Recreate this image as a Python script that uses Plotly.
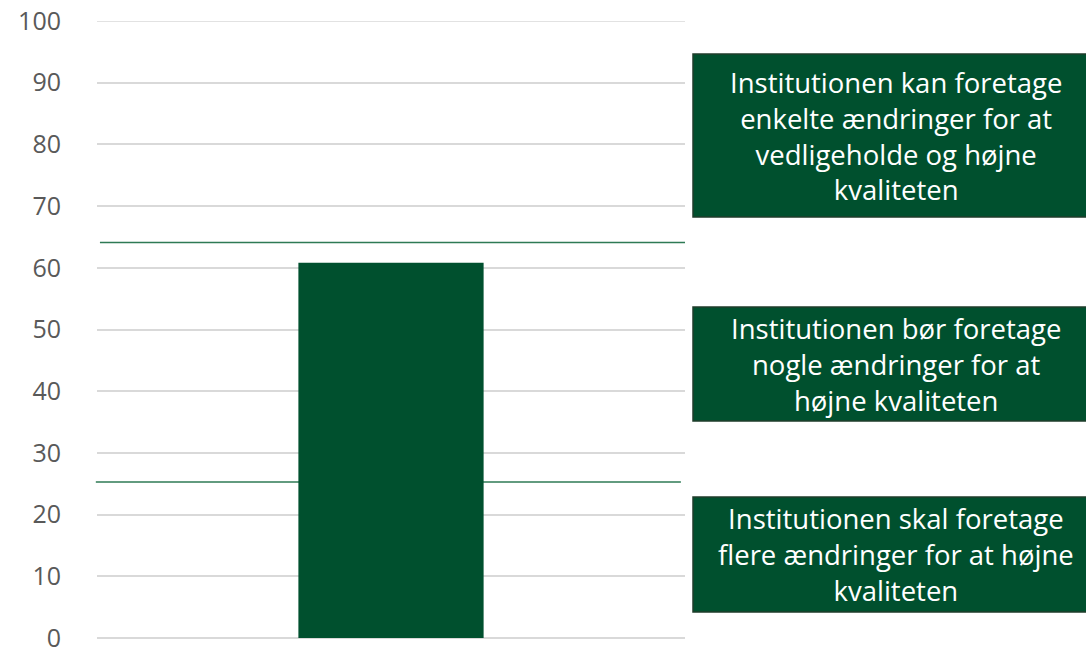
import plotly.graph_objects as go

categories = [""]
values = [60.8]
thresholds = [25.3, 64.1]
threshold_spans = [(-0.002, 0.993), (0.005, 1.0)]
y_ticks = [0, 10, 20, 30, 40, 50, 60, 70, 80, 90, 100]
box_texts = [
    "Institutionen kan foretage<br>enkelte ændringer for at<br>vedligeholde og højne<br>kvaliteten",
    "Institutionen bør foretage<br>nogle ændringer for at<br>højne kvaliteten",
    "Institutionen skal foretage<br>flere ændringer for at højne<br>kvaliteten",
]

W, H = 1086, 653
L, R, T, B = 97, 401, 21, 15
pw, ph = W - L - R, H - T - B

def px_x(x):
    return (x - L) / pw

def px_y(y):
    return (H - B - y) / ph

# box pixel extents (top, bottom)
box_px = [(54, 217), (307, 421), (497, 612)]
box_left, box_right = 693, 1100

GREEN = "#00502E"
GRID = "#D9D9D9"

fig = go.Figure()
fig.add_trace(go.Bar(x=categories, y=values, marker=dict(color=GREEN, line=dict(width=0)),
                     width=0.315, hoverinfo="skip"))

# top gridline (plotly hides gridlines on the range edge)
fig.add_shape(type="line", xref="paper", yref="y", x0=0, x1=1, y0=y_ticks[-1], y1=y_ticks[-1],
              line=dict(color=GRID, width=1.5), layer="between")

for t, (a, b) in zip(thresholds, threshold_spans):
    fig.add_shape(type="line", xref="paper", yref="y", x0=a, x1=b, y0=t, y1=t,
                  line=dict(color="#2E7A55", width=1.5), layer="between")

for (top, bot), txt in zip(box_px, box_texts):
    fig.add_shape(type="rect", xref="paper", yref="paper",
                  x0=px_x(box_left), x1=px_x(box_right), y0=px_y(bot), y1=px_y(top),
                  fillcolor=GREEN, line=dict(color="#1F3D2B", width=1.5), layer="above")
    fig.add_annotation(xref="paper", yref="paper", x=px_x(896), y=px_y((top + bot) / 2),
                       text=txt, showarrow=False, xanchor="center", yanchor="middle",
                       align="center", font=dict(family="Open Sans", size=27.5, color="white"))

fig.update_layout(
    width=W, height=H,
    margin=dict(l=L, r=R, t=T, b=B, autoexpand=False),
    plot_bgcolor="white", paper_bgcolor="white",
    showlegend=False,
    xaxis=dict(showticklabels=False, showgrid=False, zeroline=False, showline=False, ticks="",
               automargin=False),
    yaxis=dict(range=[0, 100], tickvals=y_ticks, showgrid=True, gridcolor=GRID, gridwidth=1.5,
               zeroline=True, zerolinecolor=GRID, zerolinewidth=1.5,
               showline=False, ticks="", ticklabelstandoff=35, automargin=False,
               ticklabeloverflow="allow",
               tickfont=dict(family="Open Sans", size=25, color="#595959")),
)

fig.write_html("out.html", config={"displayModeBar": False},
               post_script="document.body.style.margin='0';document.documentElement.style.overflow='hidden';")
